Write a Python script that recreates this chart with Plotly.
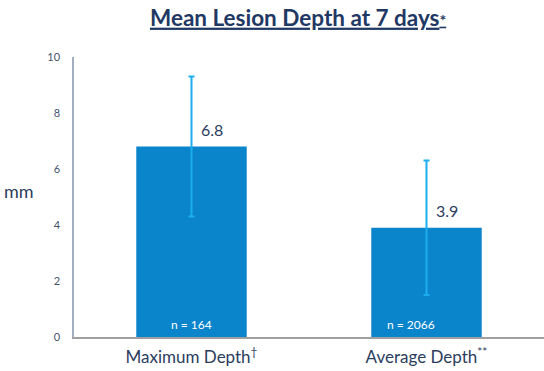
import plotly.graph_objects as go

categories = ["Maximum Depth<sup>†</sup>", "Average Depth<sup>**</sup>"]
mean_depth = [6.8, 3.9]
sd_depth = [2.5, 2.4]
n_counts = [164, 2066]
value_labels = ["6.8", "3.9"]
y_ticks = [0, 2, 4, 6, 8, 10]

FONT = "Lato"
NAVY = "#1F3864"
TEXT = "#2B3D5E"

fig = go.Figure()
fig.add_trace(go.Bar(
    x=categories, y=mean_depth, width=0.47,
    marker=dict(color="#0A84CA", line=dict(width=0)),
    error_y=dict(type="data", array=sd_depth, visible=True,
                 color="#1AAEEF", thickness=2, width=3),
    hoverinfo="skip",
))

for cat, v, lab in zip(categories, mean_depth, value_labels):
    fig.add_annotation(x=cat, y=v, text=lab, showarrow=False,
                       xshift=20, yshift=17,
                       font=dict(family=FONT, size=16, color=TEXT))

n_shift = [0, -16]
for cat, n, s in zip(categories, n_counts, n_shift):
    fig.add_annotation(x=cat, y=0, text=f"n = {n}", showarrow=False,
                       yanchor="bottom", yshift=3, xshift=s,
                       font=dict(family=FONT, size=12, color="white"))

fig.add_annotation(xref="paper", yref="paper", x=-0.117, y=0.52,
                   text="mm", showarrow=False, xanchor="center",
                   font=dict(family=FONT, size=18, color=TEXT))

fig.update_layout(
    width=544, height=371,
    margin=dict(l=74, r=0, t=57, b=34),
    paper_bgcolor="white", plot_bgcolor="white",
    showlegend=False,
    title=dict(
        text="<b><u>Mean Lesion Depth at 7 days<span style='font-size:16px'>*</span></u></b>",
        x=0.548, xref="container", xanchor="center",
        y=0.952, yref="container", yanchor="middle",
        font=dict(family=FONT, size=22.5, color=NAVY),
    ),
    xaxis=dict(
        showline=True, linecolor="#A0A0A0", linewidth=1.5,
        ticks="outside", ticklen=4, tickcolor="rgba(0,0,0,0)",
        tickfont=dict(family=FONT, size=17, color=TEXT),
        showgrid=False, zeroline=False,
    ),
    yaxis=dict(
        range=[0, 10], tickvals=y_ticks,
        showline=True, linecolor="#A3AEC0", linewidth=1.5,
        ticks="outside", ticklen=10, tickcolor="rgba(0,0,0,0)",
        tickfont=dict(family=FONT, size=11, color="#44546A"),
        showgrid=False, zeroline=False,
    ),
)

fig.write_html("out.html",
               config={"displayModeBar": False},
               post_script="document.body.style.margin='0';document.body.style.overflow='hidden';")
